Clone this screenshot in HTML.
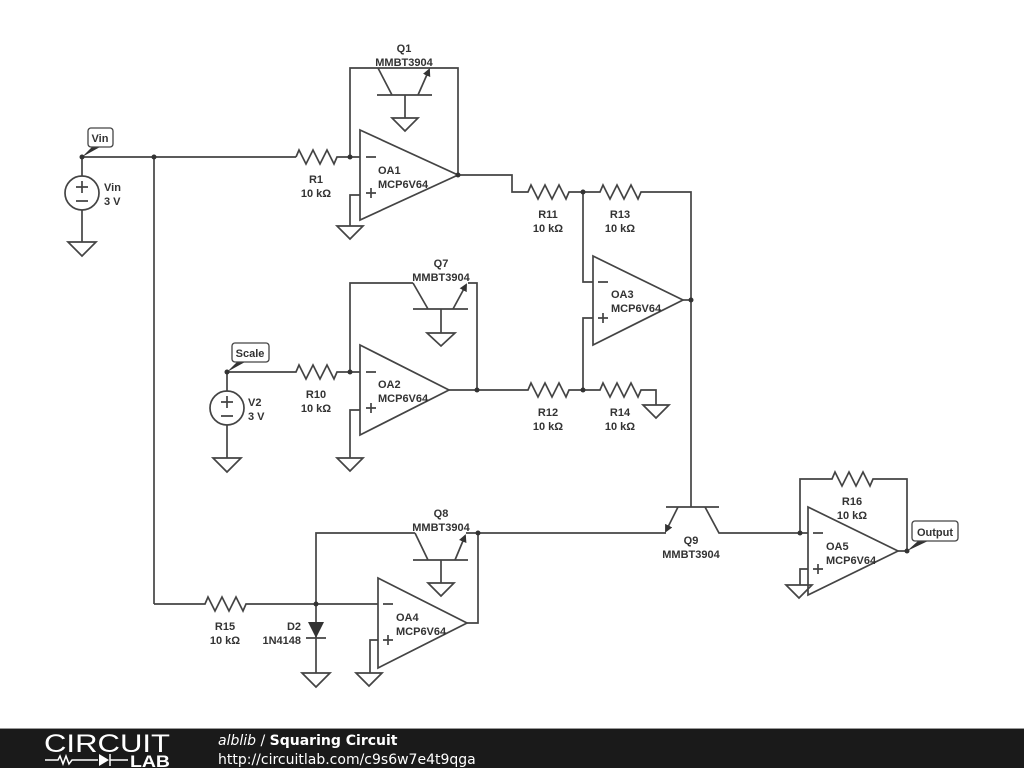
<!DOCTYPE html>
<html><head><meta charset="utf-8"><style>
html,body{margin:0;padding:0;background:#fff;width:1024px;height:768px;overflow:hidden}
svg{display:block}
text{font-family:"Liberation Sans",sans-serif;font-weight:bold;font-size:11px;fill:#333}
.w{stroke:#444;stroke-width:1.7;fill:none}
</style></head><body>
<svg width="1024" height="768" viewBox="0 0 1024 768">
<defs>
<marker id="ar" markerWidth="8" markerHeight="8" refX="6" refY="4" orient="auto" markerUnits="userSpaceOnUse"><path d="M0,0 L8,4 L0,8 z" fill="#333"/></marker>
</defs>
<g class="w">
<!-- Vin source -->
<path d="M82,157 V176 M82,210 V242"/>
<circle cx="82" cy="193" r="17"/>
<path d="M76,187 h12 M82,181 v12 M76,201 h12"/>
<path d="M68,242 h28 l-14,14 z"/>
<!-- Vin wire -->
<path d="M82,157 H296 M154,157 V604"/>
<path d="M296,157 l3,-7 l7,14 l7,-14 l7,14 l7,-14 l7,14 l3,-7 H360"/>
<!-- OA1 -->
<path d="M360,130 L458,175 L360,220 z"/>
<path d="M366,157 h10 M366,193 h10 M371,188 v10"/>
<path d="M350,157 V68 H458 V175"/>
<path d="M360,195 H350 V226"/>
<path d="M337,226 h26 l-13,13 z"/>
<!-- Q1 -->
<path d="M377,95 H432 M378,68 L392,95 M405,95 V118 M392,118 h26 l-13,13 z"/>
<path d="M418,95 L429,70" marker-end="url(#ar)"/>
<!-- OA1 out to R11 -->
<path d="M458,175 H512 V192 H528 l3,-7 l7,14 l7,-14 l7,14 l7,-14 l7,14 l3,-7 H600 l3,-7 l7,14 l7,-14 l7,14 l7,-14 l7,14 l3,-7 H691 V507"/>
<!-- OA3 -->
<path d="M593,256 L683,300 L593,345 z"/>
<path d="M598,282 h10 M598,318 h10 M603,313 v10"/>
<path d="M583,192 V282 H593 M593,318 H583 V390"/>
<path d="M683,300 H691"/>
<!-- R12, R14 -->
<path d="M477,390 H528 l3,-7 l7,14 l7,-14 l7,14 l7,-14 l7,14 l3,-7 H600 l3,-7 l7,14 l7,-14 l7,14 l7,-14 l7,14 l3,-7 H656 V405"/>
<path d="M643,405 h26 l-13,13 z"/>
<!-- V2 -->
<path d="M227,372 V391 M227,425 V458"/>
<circle cx="227" cy="408" r="17"/>
<path d="M221,402 h12 M227,396 v12 M221,416 h12"/>
<path d="M213,458 h28 l-14,14 z"/>
<path d="M227,372 H296 l3,-7 l7,14 l7,-14 l7,14 l7,-14 l7,14 l3,-7 H360"/>
<!-- OA2 -->
<path d="M360,345 L449,390 L360,435 z"/>
<path d="M366,372 h10 M366,408 h10 M371,403 v10"/>
<path d="M350,372 V283 H413 M468,283 H477 V390 H449"/>
<path d="M360,410 H350 V458"/>
<path d="M337,458 h26 l-13,13 z"/>
<!-- Q7 -->
<path d="M413,309 H468 M413,283 L428,309 M441,309 V333 M427,333 h28 l-14,13 z"/>
<path d="M453,309 L466,285" marker-end="url(#ar)"/>
<!-- Q9 -->
<path d="M666,507 H719 M705,507 L719,533 H808"/>
<path d="M678,507 L666,531" marker-end="url(#ar)"/>
<path d="M666,533 H478"/>
<!-- OA5 -->
<path d="M808,507 L898,551 L808,595 z"/>
<path d="M813,533 h10 M813,569 h10 M818,564 v10"/>
<path d="M800,533 V479 H832 l3,-7 l7,14 l7,-14 l7,14 l7,-14 l7,14 l3,-7 H907 V551 H898"/>
<path d="M808,569 H800 V585"/>
<path d="M786,585 h26 l-13,13 z"/>
<!-- R15 / OA4 -->
<path d="M154,604 H205 l3,-7 l7,14 l7,-14 l7,14 l7,-14 l7,14 l3,-7 H378"/>
<path d="M378,578 L467,623 L378,668 z"/>
<path d="M383,604 h10 M383,640 h10 M388,635 v10"/>
<path d="M378,640 H370 V673 M356,673 h26 l-13,13 z"/>
<path d="M467,623 H478 V533"/>
<!-- Q8 -->
<path d="M316,604 V533 H415 M466,533 H478 M413,560 H468 M415,533 L428,560 M441,560 V583 M428,583 h26 l-13,13 z"/>
<path d="M455,560 L465,536" marker-end="url(#ar)"/>
<!-- D2 -->
<path d="M316,604 V673 M306,638 h20 M302,673 h28 l-14,14 z"/>
</g>
<path d="M308,622 h16 l-8,16 z" fill="#333"/>
<!-- junctions -->
<g fill="#333">
<circle cx="82" cy="157" r="2.5"/><circle cx="154" cy="157" r="2.5"/><circle cx="350" cy="157" r="2.5"/>
<circle cx="458" cy="175" r="2.5"/><circle cx="583" cy="192" r="2.5"/><circle cx="691" cy="300" r="2.5"/>
<circle cx="583" cy="390" r="2.5"/><circle cx="477" cy="390" r="2.5"/><circle cx="350" cy="372" r="2.5"/>
<circle cx="227" cy="372" r="2.5"/><circle cx="478" cy="533" r="2.5"/><circle cx="316" cy="604" r="2.5"/>
<circle cx="800" cy="533" r="2.5"/><circle cx="907" cy="551" r="2.5"/>
<path d="M82,157 L92,147 L100,147 z"/><path d="M227,372 L237,362 L245,362 z"/><path d="M907,551 L918,541 L928,541 z"/>
</g>
<!-- label boxes -->
<g fill="#fff" stroke="#444" stroke-width="1.3">
<rect x="88" y="128" width="25" height="19" rx="3"/>
<rect x="232" y="343" width="37" height="19" rx="3"/>
<rect x="912" y="521" width="46" height="20" rx="3"/>
</g>
<text x="100" y="142" text-anchor="middle">Vin</text>
<text x="250" y="357" text-anchor="middle">Scale</text>
<text x="935" y="536" text-anchor="middle">Output</text>
<!-- component labels -->
<text x="104" y="191">Vin</text><text x="104" y="205">3 V</text>
<text x="248" y="406">V2</text><text x="248" y="420">3 V</text>
<g text-anchor="middle">
<text x="404" y="52">Q1</text><text x="404" y="66">MMBT3904</text>
<text x="316" y="183">R1</text><text x="316" y="197">10 kΩ</text>
<text x="441" y="267">Q7</text><text x="441" y="281">MMBT3904</text>
<text x="316" y="398">R10</text><text x="316" y="412">10 kΩ</text>
<text x="548" y="218">R11</text><text x="548" y="232">10 kΩ</text>
<text x="620" y="218">R13</text><text x="620" y="232">10 kΩ</text>
<text x="548" y="416">R12</text><text x="548" y="430">10 kΩ</text>
<text x="620" y="416">R14</text><text x="620" y="430">10 kΩ</text>
<text x="441" y="517">Q8</text><text x="441" y="531">MMBT3904</text>
<text x="691" y="544">Q9</text><text x="691" y="558">MMBT3904</text>
<text x="852" y="505">R16</text><text x="852" y="519">10 kΩ</text>
<text x="225" y="630">R15</text><text x="225" y="644">10 kΩ</text>
</g>
<text x="378" y="174">OA1</text><text x="378" y="188">MCP6V64</text>
<text x="611" y="298">OA3</text><text x="611" y="312">MCP6V64</text>
<text x="378" y="388">OA2</text><text x="378" y="402">MCP6V64</text>
<text x="396" y="621">OA4</text><text x="396" y="635">MCP6V64</text>
<text x="826" y="550">OA5</text><text x="826" y="564">MCP6V64</text>
<text x="301" y="630" text-anchor="end">D2</text><text x="301" y="644" text-anchor="end">1N4148</text>
<!-- footer -->
<rect x="0" y="728" width="1024" height="2" fill="#999"/>
<rect x="0" y="729" width="1024" height="39" fill="#1a1a1a"/>
<text x="44" y="752" textLength="126" lengthAdjust="spacingAndGlyphs" style="font-weight:normal;font-size:25px;fill:#fff">CIRCUIT</text>
<g stroke="#fff" stroke-width="1.5" fill="none"><path d="M45,760 H58 l2,-4 l3,8 l3,-8 l3,8 l3,-4 H98 M110,754 v12 M110,760 H128"/></g>
<path d="M99,754 l10,6 l-10,6 z" fill="#fff"/>
<text x="130" y="767" textLength="40" lengthAdjust="spacingAndGlyphs" style="font-size:17px;fill:#fff;font-weight:bold">LAB</text>
<text x="218" y="745" style="font-size:14px;fill:#fff;font-weight:normal;font-family:'DejaVu Sans',sans-serif"><tspan font-style="italic">alblib</tspan> / <tspan font-weight="bold">Squaring Circuit</tspan></text>
<text x="218" y="764" style="font-size:14px;fill:#fff;font-weight:normal;font-family:'DejaVu Sans',sans-serif">http://circuitlab.com/c9s6w7e4t9qga</text>
</svg>
</body></html>
